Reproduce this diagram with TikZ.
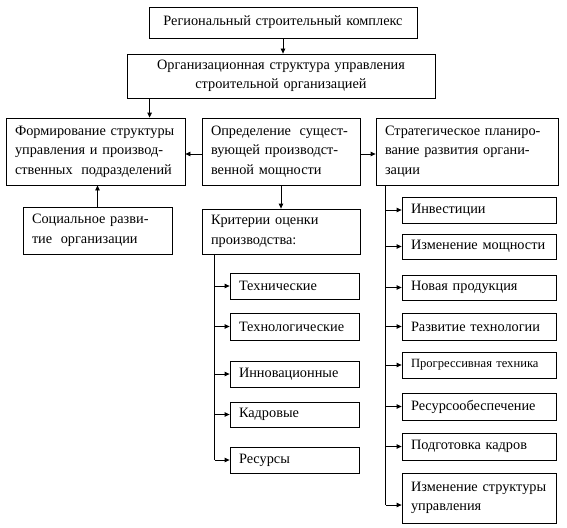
\documentclass[tikz,border=0pt]{standalone}
\usepackage{fontspec}
\setmainfont{Liberation Serif}
\usetikzlibrary{arrows.meta}
\newcommand{\fz}{\fontsize{14.3}{19.5}\selectfont}
\newcommand{\fs}{\fontsize{12.6}{16}\selectfont}
\begin{document}
\begin{tikzpicture}[x=1pt,y=-1pt,
  bx/.style={draw, line width=0.8pt, inner ysep=0pt, inner xsep=9pt, align=left, font=\fz},
  cbx/.style={bx, align=center},
  arr/.style={-{Triangle[length=5pt,width=4.5pt]}, line width=0.8pt},
  ln/.style={line width=0.8pt}]
\useasboundingbox (0,0) rectangle (567,527);
% top
\node[cbx, text width=250pt, minimum height=31pt] (b1) at (283,22.5) {Региональный строительный комплекс};
\node[cbx, text width=290pt, minimum height=44pt] (b2) at (281,76) {Организационная структура управления\\строительной организацией};
% middle row
\node[bx, text width=161pt, minimum height=67pt] (b3) at (95.5,151.5) {Формирование структуры\\управления и производ-\\ственных\hspace{0.6em}подразделений};
\node[bx, text width=140pt, minimum height=67pt] (b4) at (281,151.5) {Определение\hspace{0.6em}сущест-\\вующей производст-\\венной мощности};
\node[bx, text width=164pt, minimum height=67pt] (b5) at (467,151.5) {Стратегическое планиро-\\вание развития органи-\\зации};
% second row
\node[bx, text width=131pt, minimum height=47pt] (soc) at (97.5,230.5) {Социальное разви-\\тие\hspace{0.6em}организации};
\node[bx, text width=140pt, minimum height=45pt] (crit) at (281,231.5) {Критерии оценки\\производства:};
% criteria list
\node[bx, text width=111pt, minimum height=26pt] (t1) at (294.5,286) {Технические};
\node[bx, text width=111pt, minimum height=27pt] (t2) at (294.5,326.5) {Технологические};
\node[bx, text width=111pt, minimum height=26pt] (t3) at (294.5,374) {Инновационные};
\node[bx, text width=111pt, minimum height=25pt] (t4) at (294.5,414.5) {Кадровые};
\node[bx, text width=111pt, minimum height=26pt] (t5) at (294.5,460) {Ресурсы};
% planning list
\node[bx, text width=136pt, minimum height=26pt] (r1) at (479,210) {Инвестиции};
\node[bx, text width=136pt, minimum height=25pt] (r2) at (479,246.5) {Изменение мощности};
\node[bx, text width=136pt, minimum height=25pt] (r3) at (479,287.5) {Новая продукция};
\node[bx, text width=136pt, minimum height=27pt] (r4) at (479,326.5) {Развитие технологии};
\node[bx, text width=136pt, minimum height=26pt, font=\fs] (r5) at (479,365) {Прогрессивная техника};
\node[bx, text width=136pt, minimum height=27pt] (r6) at (479,406.5) {Ресурсообеспечение};
\node[bx, text width=136pt, minimum height=27pt] (r7) at (479,446.5) {Подготовка кадров};
\node[bx, text width=136pt, minimum height=50pt] (r8) at (479,498) {Изменение структуры\\управления};
% connectors
\draw[arr] (b1.south) -- (b1.south |- b2.north);
\draw[arr] ([xshift=23pt]b2.south west) -- ([xshift=23pt]b2.south west |- b3.north);
\draw[arr] ([yshift=-2.5pt]b4.west) -- ([yshift=-2.5pt]b3.east);
\draw[arr] ([yshift=-2.5pt]b4.east) -- ([yshift=-2.5pt]b5.west);
\draw[arr] (soc.north) -- (soc.north |- b3.south);
\draw[arr] (b4.south) -- (crit.north);
% criteria spine
\coordinate (ls) at ([xshift=13pt]crit.south west);
\draw[ln] (ls) -- (ls |- t5.west);
\foreach \n in {t1,t2,t3,t4,t5} \draw[arr] (ls |- \n.west) -- (\n.west);
% planning spine
\coordinate (rs) at ([xshift=10pt]b5.south west);
\coordinate (r8in) at ([yshift=-7pt]r8.west);
\draw[ln] (rs) -- (rs |- r8in);
\foreach \n in {r1,r2,r3,r4,r5,r6,r7} \draw[arr] (rs |- \n.west) -- (\n.west);
\draw[arr] (rs |- r8in) -- (r8in);
\end{tikzpicture}
\end{document}
